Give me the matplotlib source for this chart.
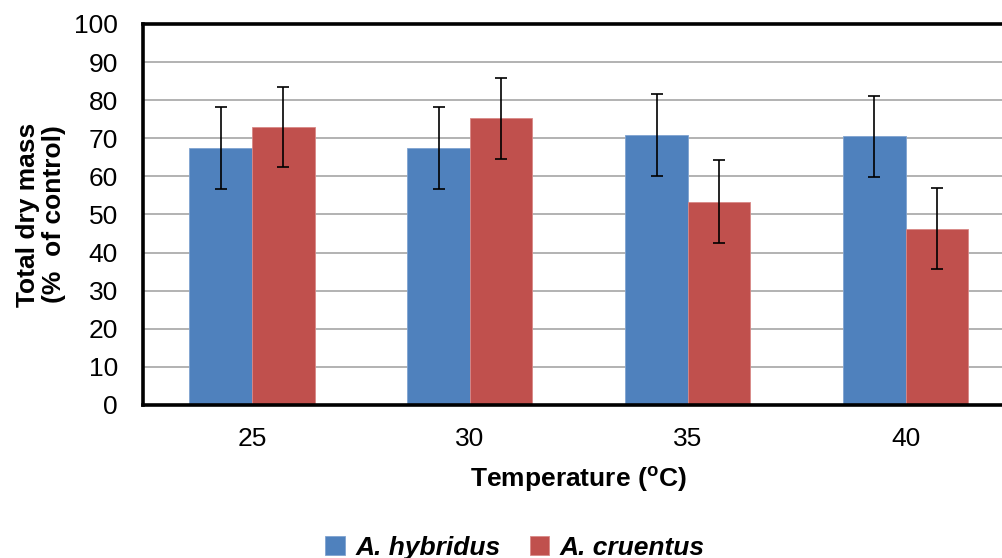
import numpy as np
import matplotlib
matplotlib.use("Agg")
import matplotlib.pyplot as plt

plt.rcParams["font.family"] = ["Liberation Sans", "DejaVu Sans"]
plt.rcParams["mathtext.fontset"] = "custom"
plt.rcParams["mathtext.rm"] = "Liberation Sans:bold"

temperatures = ["25", "30", "35", "40"]
hybridus = [67.5, 67.5, 70.9, 70.5]
hybridus_err = [10.8, 10.7, 10.7, 10.6]
cruentus = [72.9, 75.2, 53.4, 46.3]
cruentus_err = [10.5, 10.6, 10.8, 10.7]

blue = "#4F81BD"
red = "#C0504D"

fig = plt.figure(figsize=(10.03, 5.58), dpi=100)
ax = fig.add_axes([0.1426, 0.2742, 0.869, 0.6828])

x = np.arange(len(temperatures))
w = 0.287
err_style = dict(ecolor="black", elinewidth=1.2, capsize=4.5, capthick=1.2)
ax.bar(x - w / 2, hybridus, w, color=blue, edgecolor="#7FA3D0", linewidth=0.6,
       yerr=hybridus_err, error_kw=err_style, label="A. hybridus", zorder=2)
ax.bar(x + w / 2, cruentus, w, color=red, edgecolor="#D98886", linewidth=0.6,
       yerr=cruentus_err, error_kw=err_style, label="A. cruentus", zorder=2)

ax.set_xlim(-0.5, 3.5)
ax.set_ylim(0, 100)
ax.set_yticks(range(0, 101, 10))
ax.set_xticks(x)
ax.set_xticklabels(temperatures)
ax.yaxis.grid(True, color="#A6A6A6", linewidth=1.2, zorder=0)
ax.set_axisbelow(True)

for side in ("left", "bottom", "top"):
    ax.spines[side].set_linewidth(2.6)
    ax.spines[side].set_color("black")
ax.spines["right"].set_visible(False)

ax.tick_params(axis="both", length=0, labelsize=19)
ax.tick_params(axis="y", pad=18)
ax.tick_params(axis="x", pad=16)

ylab = ax.set_ylabel("Total dry mass\n(%  of control)", fontsize=19, fontweight="bold",
                     multialignment="center", linespacing=1.15)
ylab.set_verticalalignment("center")
ax.yaxis.set_label_coords(-0.117, 0.5)
ax.set_xlabel(r"Temperature ($^{\rm o}$C)", fontsize=19, fontweight="bold")
ax.xaxis.set_label_coords(0.5, -0.155)

fig.legend(loc="center", bbox_to_anchor=(515 / 1003, 1 - 548 / 558), ncol=2,
           frameon=False, handlelength=0.75, handleheight=0.75, handletextpad=0.4,
           columnspacing=1.1,
           prop={"size": 19, "weight": "bold", "style": "italic"})

fig.savefig("out.png", dpi=100)
